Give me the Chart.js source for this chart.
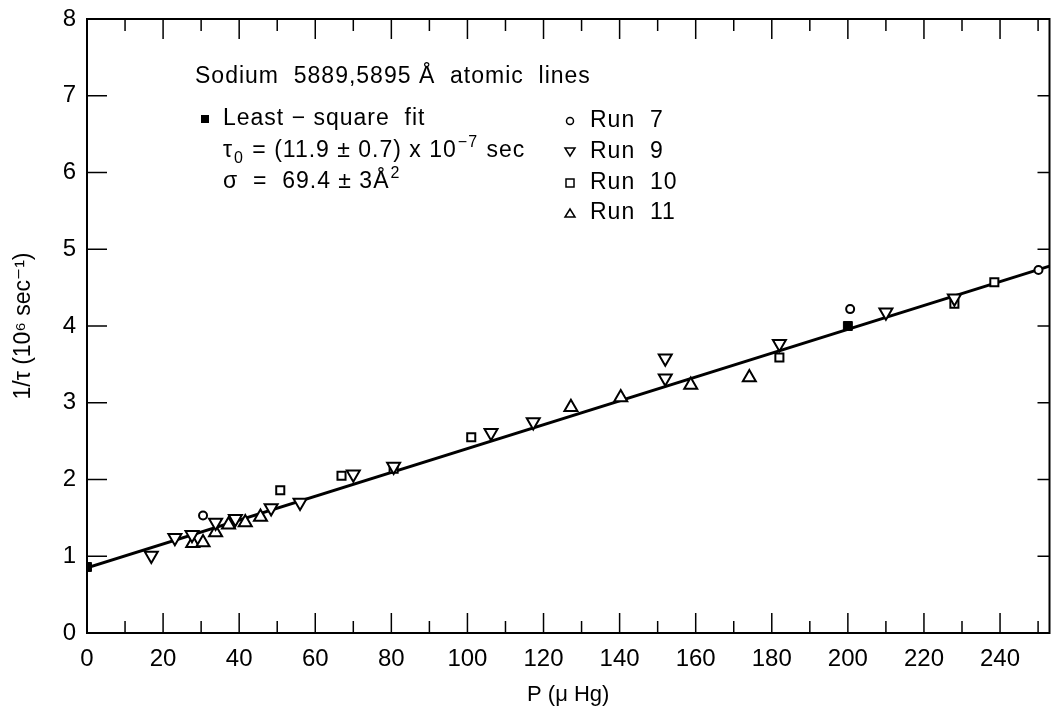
<!DOCTYPE html>
<html>
<head>
<meta charset="utf-8">
<script src="https://cdn.jsdelivr.net/npm/chart.js@4.4.0/dist/chart.umd.min.js"></script>
<style>
  html, body { margin: 0; padding: 0; background: #fff; }
  canvas { display: block; }
</style>
</head>
<body>
<canvas id="naChart" width="1059" height="722"></canvas>
<script>
// pressure (micro Hg) and decay rate 1/tau (10^6 sec^-1)
const run7P = [30.5, 200.6, 250.1];
const run7Rate = [1.53, 4.22, 4.73];

const run9P = [16.9, 23.1, 27.6, 33.8, 39.0, 48.4, 56.0, 70.0, 80.6, 106.2, 117.3, 152.0, 152.0, 182.0, 210.0, 228.0];
const run9Rate = [1.01, 1.24, 1.28, 1.44, 1.49, 1.63, 1.70, 2.07, 2.17, 2.61, 2.75, 3.58, 3.32, 3.77, 4.18, 4.36];

const run10P = [50.8, 66.9, 80.6, 101.0, 182.0, 228.0, 238.5];
const run10Rate = [1.86, 2.05, 2.14, 2.55, 3.59, 4.29, 4.57];

const run11P = [27.8, 30.5, 33.8, 37.2, 41.6, 45.6, 127.2, 140.3, 158.7, 174.1];
const run11Rate = [1.17, 1.18, 1.31, 1.41, 1.44, 1.51, 2.94, 3.07, 3.23, 3.33];

// least-square fit: marked points and the drawn line
const fitMarkP = [0, 200];
const fitMarkRate = [0.86, 4.0];
const fitLineP = [0, 253];
const fitLineRate = [0.85, 4.78];

const xTickValues = [0, 10, 20, 30, 40, 50, 60, 70, 80, 90, 100, 110, 120, 130, 140, 150, 160, 170, 180, 190, 200, 210, 220, 230, 240, 250];
const yTickValues = [0, 1, 2, 3, 4, 5, 6, 7, 8];

const FONT = '"Liberation Sans", "DejaVu Sans", sans-serif';

const toPts = (xs, ys) => xs.map((v, i) => ({ x: v, y: ys[i] }));

// frame with inward ticks on all four sides
const frameTicks = {
  id: 'frameTicks',
  afterDraw(chart) {
    const { ctx, chartArea: a, scales: { x, y } } = chart;
    const seg = (x1, y1, x2, y2) => { ctx.beginPath(); ctx.moveTo(x1, y1); ctx.lineTo(x2, y2); ctx.stroke(); };
    ctx.save();
    ctx.strokeStyle = '#000';
    ctx.lineWidth = 2;
    ctx.strokeRect(a.left, a.top, a.right - a.left, a.bottom - a.top);
    ctx.lineWidth = 1.5;
    xTickValues.forEach(v => {
      const px = x.getPixelForValue(v);
      const len = v % 20 === 0 ? 20 : 12;
      seg(px, a.bottom, px, a.bottom - len);
      seg(px, a.top, px, a.top + len);
    });
    yTickValues.forEach(v => {
      const py = y.getPixelForValue(v);
      seg(a.left, py, a.left + 20, py);
      seg(a.right, py, a.right - 12, py);
    });
    ctx.restore();
  }
};

// writes pieces of text one after another; dy shifts super/subscripts
function writeRun(ctx, x, y, parts) {
  parts.forEach(p => {
    ctx.font = (p.size || 23) + 'px ' + FONT;
    ctx.fillText(p.t, x, y + (p.dy || 0));
    x += ctx.measureText(p.t).width + 1;
  });
}

// the lettered key in the upper left
const keyText = {
  id: 'keyText',
  afterDraw(chart) {
    const ctx = chart.ctx;
    ctx.save();
    ctx.fillStyle = '#000';
    ctx.strokeStyle = '#000';
    ctx.textBaseline = 'middle';
    ctx.textAlign = 'left';
    ctx.font = '23px ' + FONT;
    ctx.letterSpacing = '1px';
    ctx.fillText('Sodium  5889,5895 Å  atomic  lines', 195, 77);
    ctx.fillText('Least − square  fit', 223, 119);
    writeRun(ctx, 223, 151, [
      { t: 'τ' },
      { t: '0', size: 16, dy: 8 },
      { t: ' = (11.9 ± 0.7) x 10' },
      { t: '−7', size: 16, dy: -8 },
      { t: ' sec' }
    ]);
    writeRun(ctx, 223, 182, [
      { t: 'σ  =  69.4 ± 3Å' },
      { t: '2', size: 16, dy: -8 }
    ]);
    ctx.fillRect(201, 115, 8, 8);

    ctx.font = '23px ' + FONT;
    const runs = ['Run  7', 'Run  9', 'Run  10', 'Run  11'];
    const ys = [121, 152, 183, 213];
    runs.forEach((t, i) => ctx.fillText(t, 590, ys[i]));

    ctx.lineWidth = 1.5;
    const mx = 570;
    ctx.beginPath(); ctx.arc(mx, ys[0], 3.5, 0, Math.PI * 2); ctx.stroke();
    ctx.beginPath(); ctx.moveTo(mx - 5, ys[1] - 4); ctx.lineTo(mx + 5, ys[1] - 4); ctx.lineTo(mx, ys[1] + 4); ctx.closePath(); ctx.stroke();
    ctx.strokeRect(mx - 4, ys[2] - 4, 8, 8);
    ctx.beginPath(); ctx.moveTo(mx - 5, ys[3] + 4); ctx.lineTo(mx + 5, ys[3] + 4); ctx.lineTo(mx, ys[3] - 4); ctx.closePath(); ctx.stroke();
    ctx.restore();
  }
};

const marker = { backgroundColor: '#fff', borderColor: '#000', borderWidth: 2 };

new Chart(document.getElementById('naChart'), {
  type: 'scatter',
  data: {
    datasets: [
      {
        label: 'Least-square fit line',
        type: 'line',
        data: toPts(fitLineP, fitLineRate),
        borderColor: '#000',
        borderWidth: 3,
        pointRadius: 0,
        fill: false,
        order: 5
      },
      { label: 'Run 7', data: toPts(run7P, run7Rate), pointStyle: 'circle', pointRadius: 4, ...marker },
      { label: 'Run 9', data: toPts(run9P, run9Rate), pointStyle: 'triangle', rotation: 180, pointRadius: 7.5, ...marker },
      { label: 'Run 10', data: toPts(run10P, run10Rate), pointStyle: 'rect', pointRadius: 5.7, ...marker },
      { label: 'Run 11', data: toPts(run11P, run11Rate), pointStyle: 'triangle', pointRadius: 7.5, ...marker },
      {
        label: 'Least-square fit',
        data: toPts(fitMarkP, fitMarkRate),
        pointStyle: 'rect',
        pointRadius: 6.3,
        backgroundColor: '#000',
        borderColor: '#000',
        borderWidth: 1
      }
    ]
  },
  options: {
    responsive: false,
    animation: false,
    devicePixelRatio: 1,
    layout: { padding: { top: 19, right: 0, left: 0, bottom: 0 } },
    plugins: {
      legend: { display: false },
      tooltip: { enabled: false }
    },
    scales: {
      x: {
        type: 'linear',
        min: 0,
        max: 253,
        grid: { display: false, drawTicks: false },
        border: { display: false },
        ticks: { stepSize: 20, includeBounds: false, color: '#000', padding: 12, font: { family: FONT, size: 24 } },
        title: { display: true, text: 'P (μ Hg)', color: '#000', font: { family: FONT, size: 22 }, padding: { top: 0, bottom: 14 } },
        afterFit: s => {
          s.height = 89;
          s.paddingLeft = 0;
          s.paddingRight = 0;
        }
      },
      y: {
        min: 0,
        max: 8,
        grid: { display: false, drawTicks: false },
        border: { display: false },
        ticks: { stepSize: 1, color: '#000', padding: 11, font: { family: FONT, size: 24 } },
        title: { display: true, text: '1/τ (10⁶ sec⁻¹)', color: '#000', font: { family: FONT, size: 23 }, padding: { top: 10, bottom: 10 } },
        afterFit: s => {
          s.width = 87;
          s.paddingTop = 0;
          s.paddingBottom = 0;
        }
      }
    }
  },
  plugins: [frameTicks, keyText]
});
</script>
</body>
</html>
